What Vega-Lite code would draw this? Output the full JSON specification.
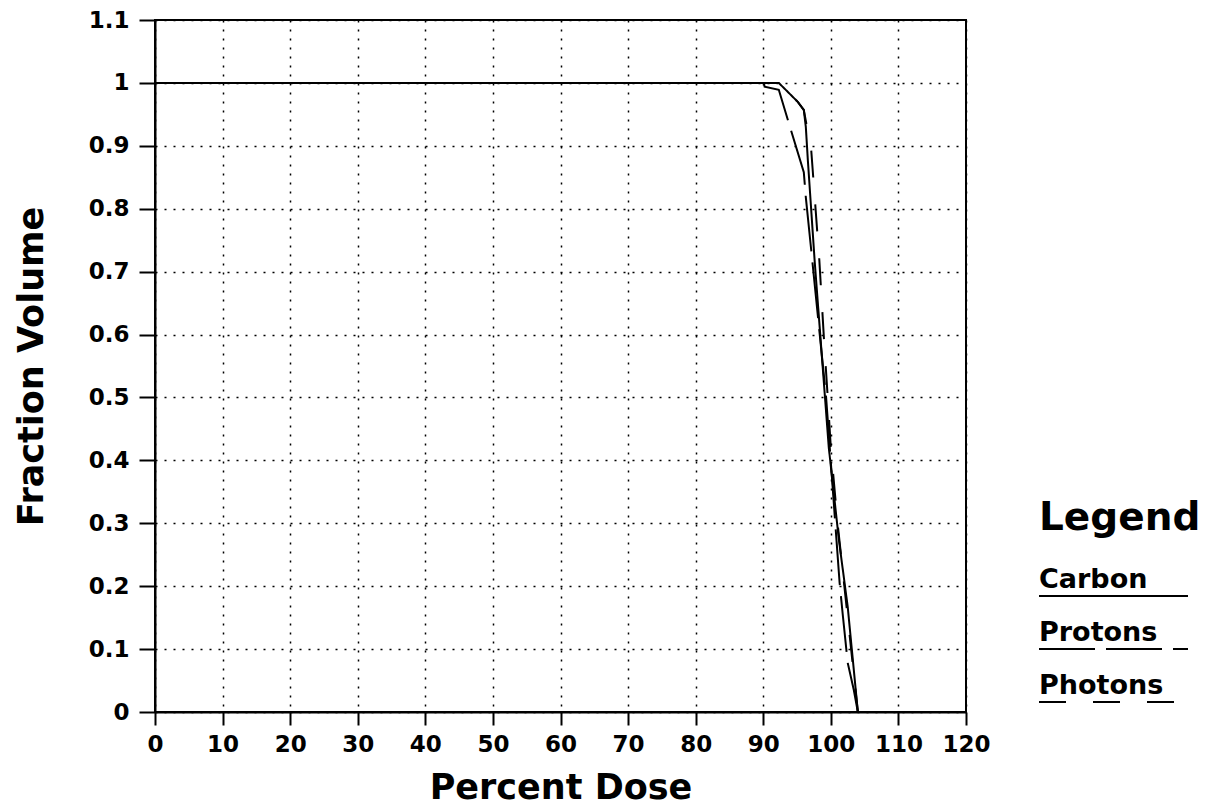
{
  "$schema": "https://vega.github.io/schema/vega-lite/v6.json",
  "autosize": {"type": "pad"},
  "padding": {"left": 13, "top": 8, "right": 5, "bottom": 5},
  "background": "white",
  "bounds": "flush",
  "spacing": 73,
  "config": {
    "font": "DejaVu Sans",
    "view": {"stroke": null},
    "axis": {
      "labelFontSize": 23,
      "labelFontWeight": "bold",
      "labelColor": "black",
      "labelFlush": false,
      "labelOverlap": false,
      "titleFontSize": 35,
      "titleFontWeight": "bold",
      "titleColor": "black",
      "tickColor": "black",
      "tickWidth": 2,
      "domainColor": "black",
      "domainWidth": 2,
      "grid": true,
      "gridColor": "black",
      "gridDash": [2, 7],
      "gridWidth": 1.5
    }
  },
  "datasets": {
    "curves": [
      {"series": "Carbon", "dose": 0, "fraction": 1},
      {"series": "Carbon", "dose": 92.3, "fraction": 1},
      {"series": "Carbon", "dose": 95.1, "fraction": 0.97},
      {"series": "Carbon", "dose": 96.0, "fraction": 0.957},
      {"series": "Carbon", "dose": 96.3, "fraction": 0.93},
      {"series": "Carbon", "dose": 96.6, "fraction": 0.877},
      {"series": "Carbon", "dose": 97.6, "fraction": 0.718},
      {"series": "Carbon", "dose": 99.7, "fraction": 0.42},
      {"series": "Carbon", "dose": 101.2, "fraction": 0.273},
      {"series": "Carbon", "dose": 102.5, "fraction": 0.167},
      {"series": "Carbon", "dose": 104, "fraction": 0},
      {"series": "Protons", "dose": 0, "fraction": 1},
      {"series": "Protons", "dose": 90.1, "fraction": 1},
      {"series": "Protons", "dose": 90.2, "fraction": 0.994},
      {"series": "Protons", "dose": 92.3, "fraction": 0.989},
      {"series": "Protons", "dose": 94.1, "fraction": 0.925},
      {"series": "Protons", "dose": 96.0, "fraction": 0.858},
      {"series": "Protons", "dose": 96.3, "fraction": 0.818},
      {"series": "Protons", "dose": 97.1, "fraction": 0.734},
      {"series": "Protons", "dose": 99.3, "fraction": 0.5},
      {"series": "Protons", "dose": 101.3, "fraction": 0.205},
      {"series": "Protons", "dose": 101.8, "fraction": 0.151},
      {"series": "Protons", "dose": 102.5, "fraction": 0.078},
      {"series": "Protons", "dose": 103.4, "fraction": 0.035},
      {"series": "Protons", "dose": 104, "fraction": 0},
      {"series": "Photons", "dose": 0, "fraction": 1},
      {"series": "Photons", "dose": 92.3, "fraction": 1},
      {"series": "Photons", "dose": 95.1, "fraction": 0.97},
      {"series": "Photons", "dose": 96.0, "fraction": 0.957},
      {"series": "Photons", "dose": 97.1, "fraction": 0.893},
      {"series": "Photons", "dose": 97.7, "fraction": 0.806},
      {"series": "Photons", "dose": 98.3, "fraction": 0.718},
      {"series": "Photons", "dose": 99.0, "fraction": 0.59},
      {"series": "Photons", "dose": 99.5, "fraction": 0.507},
      {"series": "Photons", "dose": 100, "fraction": 0.42},
      {"series": "Photons", "dose": 101, "fraction": 0.3},
      {"series": "Photons", "dose": 102, "fraction": 0.2},
      {"series": "Photons", "dose": 103, "fraction": 0.1},
      {"series": "Photons", "dose": 104, "fraction": 0}
    ],
    "legend": [
      {"series": "Carbon", "rank": 1},
      {"series": "Protons", "rank": 2},
      {"series": "Photons", "rank": 3}
    ]
  },
  "hconcat": [
    {
      "width": 811,
      "height": 692,
      "view": {"stroke": "black", "strokeWidth": 2},
      "data": {"name": "curves"},
      "mark": {"type": "line", "color": "black", "strokeWidth": 2},
      "encoding": {
        "x": {
          "field": "dose",
          "type": "quantitative",
          "scale": {"domain": [0, 120], "nice": false, "zero": false},
          "axis": {
            "title": "Percent Dose",
            "values": [0, 10, 20, 30, 40, 50, 60, 70, 80, 90, 100, 110, 120],
            "tickSize": 13,
            "labelPadding": 8,
            "titlePadding": 14
          }
        },
        "y": {
          "field": "fraction",
          "type": "quantitative",
          "scale": {"domain": [0, 1.1], "nice": false},
          "axis": {
            "title": "Fraction Volume",
            "values": [0, 0.1, 0.2, 0.3, 0.4, 0.5, 0.6, 0.7, 0.8, 0.9, 1, 1.1],
            "format": "~g",
            "tickSize": 16,
            "labelPadding": 10,
            "titlePadding": 39
          }
        },
        "strokeDash": {
          "field": "series",
          "type": "nominal",
          "scale": {"domain": ["Carbon", "Protons", "Photons"], "range": [[1, 0], [56, 11], [27, 27]]},
          "legend": null
        }
      }
    },
    {
      "width": 149,
      "height": 692,
      "layer": [
        {
          "data": {"name": "legend"},
          "mark": {"type": "rule", "color": "black", "strokeWidth": 1.8},
          "encoding": {
            "x": {"datum": 0, "type": "quantitative", "scale": {"domain": [0, 1], "nice": false}, "axis": null},
            "x2": {"datum": 1},
            "y": {"field": "rank", "type": "quantitative", "scale": {"domain": [-9.868, 3.189], "reverse": true, "nice": false, "zero": false}, "axis": null},
            "strokeDash": {
              "field": "series",
              "type": "nominal",
              "scale": {"domain": ["Carbon", "Protons", "Photons"], "range": [[1, 0], [56, 11], [27, 27]]},
              "legend": null
            }
          }
        },
        {
          "data": {"name": "legend"},
          "mark": {"type": "text", "align": "left", "baseline": "alphabetic", "dy": -8, "fontSize": 27, "fontWeight": "bold", "color": "black"},
          "encoding": {
            "x": {"datum": 0, "type": "quantitative"},
            "y": {"field": "rank", "type": "quantitative"},
            "text": {"field": "series"}
          }
        },
        {
          "data": {"values": [{"heading": "Legend"}]},
          "mark": {"type": "text", "align": "left", "baseline": "alphabetic", "dy": -13, "fontSize": 39, "fontWeight": "bold", "color": "black"},
          "encoding": {
            "x": {"datum": 0, "type": "quantitative"},
            "y": {"datum": 0, "type": "quantitative"},
            "text": {"field": "heading"}
          }
        }
      ]
    }
  ]
}
